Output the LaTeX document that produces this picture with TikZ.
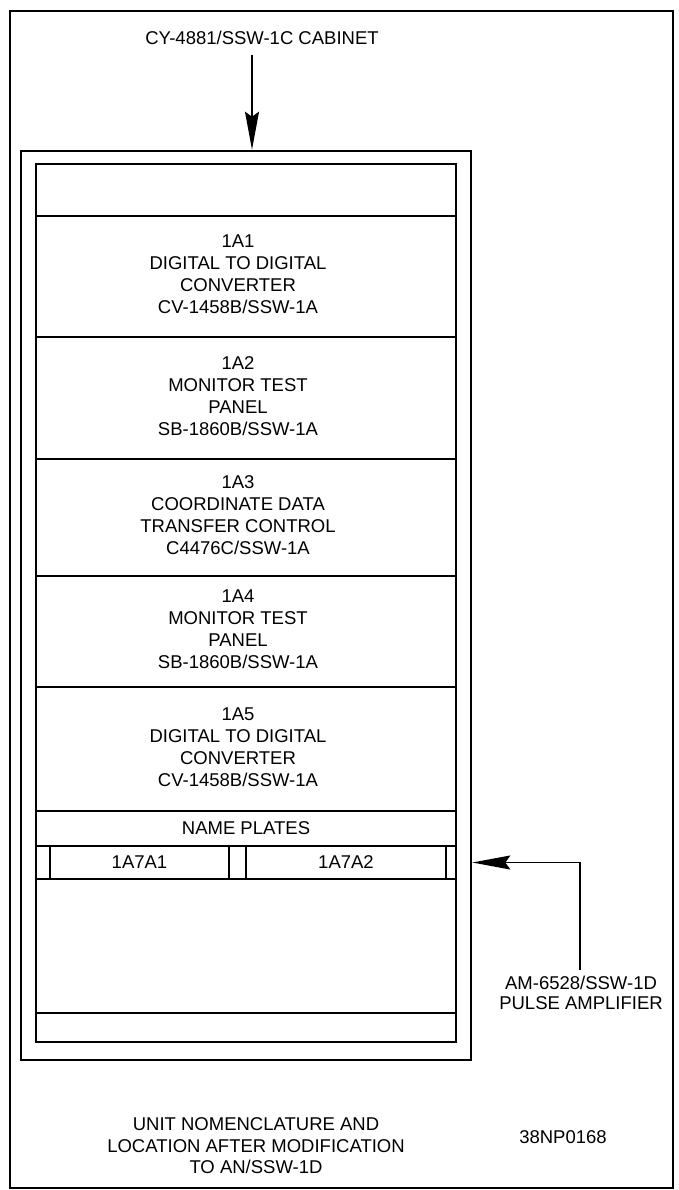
\documentclass[tikz,border=0pt]{standalone}
\usepackage{fontspec}
\setmainfont{Liberation Sans}
\usetikzlibrary{arrows.meta}
\newcommand{\blocktext}[1]{\begin{tabular}{@{}c@{}}#1\end{tabular}\hspace*{16pt}}
\tikzset{
  txt/.style={font=\fontsize{18.5}{22}\selectfont, align=center, inner sep=0pt},
  blk/.style={draw, line width=2.2pt, minimum width=420pt, inner sep=0pt, font=\fontsize{18.5}{22}\selectfont},
  plate/.style={draw, line width=1.8pt, inner sep=0pt, minimum height=33pt, txt},
  box/.style={draw, line width=2.6pt, inner sep=0pt},
  arr/.style={line width=1.8pt, -{Stealth[length=38pt, width=14pt, inset=5pt]}},
}
\begin{document}
\begin{tikzpicture}[x=1pt, y=-1pt]
\useasboundingbox (0,0) rectangle (678,1190);
% outer frame
\node[draw, line width=2.2pt, minimum width=663pt, minimum height=1177pt, inner sep=0pt] (frame) at (341.5,599.5) {};
% cabinet
\node[box, minimum width=450pt, minimum height=909pt] (cab) at (246,605.5) {};
\node[box, minimum width=420pt, minimum height=878pt] (inner) at (246,603) {};
% blocks
\node[blk, minimum height=52pt] (top) at (246,190) {};
\node[blk, minimum height=121pt] (a1) at (246,276.5) {\blocktext{1A1\\DIGITAL TO DIGITAL\\CONVERTER\\CV-1458B/SSW-1A}};
\node[blk, minimum height=122pt] (a2) at (246,398) {\blocktext{1A2\\MONITOR TEST\\PANEL\\SB-1860B/SSW-1A}};
\node[blk, minimum height=117pt] (a3) at (246,517.5) {\blocktext{1A3\\COORDINATE DATA\\TRANSFER CONTROL\\C4476C/SSW-1A}};
\node[blk, minimum height=111pt] (a4) at (246,631.5) {\blocktext{1A4\\MONITOR TEST\\PANEL\\SB-1860B/SSW-1A}};
\node[blk, minimum height=124pt] (a5) at (246,749) {\blocktext{1A5\\DIGITAL TO DIGITAL\\CONVERTER\\CV-1458B/SSW-1A}};
\node[blk, minimum height=35pt] (np) at (246,828.5) {NAME PLATES};
\node[blk, minimum height=33pt] (row) at (246,862.5) {};
\node[plate, minimum width=179pt] (p1) at (139.5,862.5) {1A7A1};
\node[plate, minimum width=200pt] (p2) at (346,862.5) {1A7A2};
\node[blk, minimum height=134pt] (empty) at (246,946) {};
\node[blk, minimum height=29pt] (strip) at (246,1027.5) {};
% top label and arrow
\node[txt] (title) at (262,38) {CY-4881/SSW-1C CABINET};
\coordinate (ta) at (252,55);
\draw[arr] (ta) -- (ta |- cab.north);
% right label and arrow
\node[txt, font=\fontsize{18.5}{20}\selectfont] (amp) at (581,993) {AM-6528/SSW-1D\\PULSE AMPLIFIER};
\coordinate (ra) at (580,970);
\draw[arr] (ra) -- (ra |- p2) -- (p2 -| cab.east);
% caption
\node[txt, font=\fontsize{18.5}{21.5}\selectfont] (cap) at (256,1146) {UNIT NOMENCLATURE AND\\LOCATION AFTER MODIFICATION\\TO AN/SSW-1D};
\node[txt] (code) at (563,1137) {38NP0168};
\end{tikzpicture}
\end{document}
